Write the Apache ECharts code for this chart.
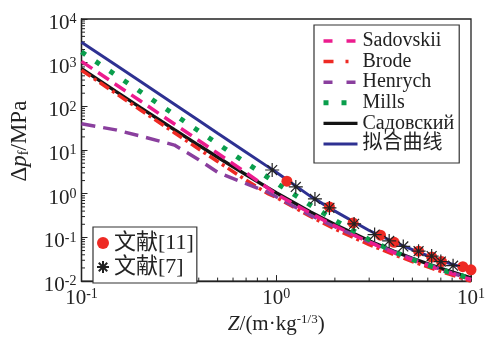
<!DOCTYPE html>
<html><head><meta charset="utf-8">
<script src="https://cdn.jsdelivr.net/npm/echarts@6/dist/echarts.min.js"></script>
<style>html,body{margin:0;padding:0;background:#fff}#c{width:488px;height:340px}</style>
</head><body><div id="c"></div>
<script>
const zVals = [0.1,0.15,0.2,0.3,0.4,0.5,0.7,0.9,1,1.5,2,3,4,5,7,10];
const sadovskii = [1070,317,134,39.5,16.6,8.46,3.02,1.37,0.98,0.357,0.183,0.0777,0.0451,0.0306,0.0180,0.0108];
const brode = [670,198.6,83.9,24.9,10.57,5.46,2.05,1.02,0.826,0.301,0.156,0.0685,0.0407,0.0281,0.0167,0.0099];
const henrych = [40.0,29,21,13,6.0,3.1,1.7,1.1,0.85,0.32,0.1755,0.0792,0.047,0.0321,0.0187,0.011];
const mills = [1762,520.7,219.2,64.7,27.25,13.94,5.09,2.41,1.766,0.547,0.247,0.089,0.0476,0.0312,0.0183,0.0114];
const sadovskyRu = [728,220,94.7,29.2,12.84,6.85,2.71,1.387,1.054,0.383,0.197,0.0839,0.0488,0.0332,0.0196,0.0118];
const fitted = [2950,880,374,112,47.4,24.3,8.94,4.23,3.1,0.87,0.40,0.144,0.0793,0.0524,0.029,0.0182];
const ref11 = [[1.134,1.94],[1.875,0.499],[2.48,0.214],[3.43,0.1127],[4.03,0.0774],[5.38,0.0483],[6.28,0.0356],[7.06,0.028],[9.08,0.0214],[10,0.0181]];
const ref7 = [[0.953,3.49],[1.26,1.43],[1.58,0.762],[1.875,0.474],[2.51,0.204],[3.2,0.116],[3.8,0.083],[4.49,0.0622],[5.38,0.0483],[6.28,0.0374],[7.0,0.028],[8.09,0.0225]];
const lineNames = ['Sadovskii','Brode','Henrych','Mills','Садовский','拟合曲线'];
const pointNames = ['文献[11]','文献[7]'];
const xMin = 0.1, xMax = 10, yMin = 0.01, yMax = 10000;

const FONT = "'Liberation Serif','Noto Sans CJK SC',serif";
const pair = arr => zVals.map((z,i)=>[z,arr[i]]);

// minor tick positions for log axes
const xMinor = [], yMinor = [];
for (let e=-1;e<1;e++) for (let k=2;k<10;k++) xMinor.push(k*Math.pow(10,e));
for (let e=-2;e<4;e++) for (let k=2;k<10;k++) yMinor.push(k*Math.pow(10,e));

const expLabel = v => {
  const e = Math.round(Math.log10(v));
  return '{b|10}{s|' + (e<0?'-':'') + Math.abs(e) + '}';
};
const labelRich = {
  b:{fontFamily:FONT,fontSize:21,color:'#222',lineHeight:22},
  s:{fontFamily:FONT,fontSize:14,color:'#222',verticalAlign:'top',lineHeight:14}
};

const chart = echarts.init(document.getElementById('c'));
const styles = {
  'Sadovskii':{color:'#ec1c8e',width:3.5,type:[13,7]},
  'Brode':{color:'#ee2a24',width:3.5,type:[11,4,3,4]},
  'Henrych':{color:'#8a3f9e',width:3.5,type:[14,8]},
  'Mills':{color:'#0a9e4c',width:5,type:[5,12]},
  'Садовский':{color:'#141414',width:3.4,type:'solid'},
  '拟合曲线':{color:'#2e3192',width:3,type:'solid'}
};
const lineBase = (name, data, z) => ({
  name, type:'line', data: pair(data), symbol:'none', z,
  lineStyle:Object.assign({cap:'butt'}, styles[name]), itemStyle:{color:styles[name].color}
});
const legendStyles = {
  'Sadovskii':{width:3.5,type:[9,14]},
  'Brode':{width:3.5,type:[10,12,3,10]},
  'Henrych':{width:3.5,type:[9,14]},
  'Mills':{width:5,type:[5,13]},
  'Садовский':{width:3.2,type:'solid'},
  '拟合曲线':{width:3,type:'solid'}
};
const starPath = 'path://M0,-10L0,10M-10,0L10,0M-7.07,-7.07L7.07,7.07M-7.07,7.07L7.07,-7.07';

chart.setOption({
  animation:false,
  backgroundColor:'#fff',
  grid:{left:78,right:13,top:19,bottom:49,show:true,borderColor:'#222',borderWidth:1.3,backgroundColor:'transparent'},
  xAxis:{type:'log',logBase:10,min:xMin,max:xMax,splitNumber:2,
    axisLine:{lineStyle:{color:'#222',width:1.3}},
    axisTick:{inside:true,length:6,lineStyle:{color:'#222',width:1}},
    splitLine:{show:false},
    axisLabel:{formatter:expLabel,rich:labelRich,margin:6},
    name:'{i|Z}{n|/(m·kg}{s|-1/3}{n|)}',nameLocation:'middle',nameGap:30,
    nameTextStyle:{rich:{
      i:{fontFamily:FONT,fontSize:21,fontStyle:'italic',color:'#222',lineHeight:22},
      n:{fontFamily:FONT,fontSize:21,color:'#222',lineHeight:22},
      s:{fontFamily:FONT,fontSize:13,color:'#222',verticalAlign:'top',lineHeight:13}}}
  },
  yAxis:{type:'log',logBase:10,min:yMin,max:yMax,splitNumber:6,
    axisLine:{lineStyle:{color:'#222',width:1.3}},
    axisTick:{inside:true,length:6,lineStyle:{color:'#222',width:1}},
    splitLine:{show:false},
    axisLabel:{formatter:expLabel,rich:labelRich,margin:5,padding:[9,0,0,0]},
    name:'{d|Δ}{p|p}{f|f}{n|/MPa}',nameLocation:'middle',nameRotate:90,nameGap:50,
    nameTextStyle:{padding:[0,0,0,18],rich:{
      d:{fontFamily:FONT,fontSize:23,color:'#222',lineHeight:24},
      p:{fontFamily:FONT,fontSize:23,fontStyle:'italic',color:'#222',lineHeight:24},
      f:{fontFamily:FONT,fontSize:14,color:'#222',verticalAlign:'bottom',lineHeight:14},
      n:{fontFamily:FONT,fontSize:23,color:'#222',lineHeight:24}}}
  },
  legend:[{
    data:lineNames.map(n=>({name:n,lineStyle:legendStyles[n]})), orient:'vertical', left:314, top:25,
    itemWidth:34, itemHeight:14, itemGap:0.6,
    itemStyle:{color:'rgba(0,0,0,0)',opacity:0,borderWidth:0},
    padding:[6,5,9,7], borderColor:'#333', borderWidth:1.2, backgroundColor:'#fff',
    textStyle:{fontFamily:FONT,fontSize:20,color:'#222',lineHeight:18}
  },{
    data:pointNames, orient:'vertical', left:93, top:227,
    itemWidth:12, itemHeight:12, itemGap:2,
    padding:[5,3,5,3], borderColor:'#333', borderWidth:1.2, backgroundColor:'#fff',
    textStyle:{fontFamily:FONT,fontSize:22,color:'#222',lineHeight:18}
  }],
  series:[
    {type:'custom',coordinateSystem:'cartesian2d',silent:true,z:1,
      data:xMinor.map(v=>[v,yMin]),
      renderItem:(p,api)=>{const c=api.coord([api.value(0),yMin]);
        return {type:'line',shape:{x1:c[0],y1:c[1],x2:c[0],y2:c[1]-3.5},style:{stroke:'#222',lineWidth:1}};}},
    {type:'custom',coordinateSystem:'cartesian2d',silent:true,z:1,
      data:yMinor.map(v=>[xMin,v]),
      renderItem:(p,api)=>{const c=api.coord([xMin,api.value(1)]);
        return {type:'line',shape:{x1:c[0],y1:c[1],x2:c[0]+3.5,y2:c[1]},style:{stroke:'#222',lineWidth:1}};}},
    lineBase('Садовский', sadovskyRu, 3),
    lineBase('Brode', brode, 4),
    lineBase('Henrych', henrych, 4),
    lineBase('Sadovskii', sadovskii, 5),
    lineBase('Mills', mills, 6),
    lineBase('拟合曲线', fitted, 7),
    {name:'文献[11]',type:'scatter',data:ref11,symbol:'circle',symbolSize:11,z:8,clip:false,
      itemStyle:{color:'#ee2a24',opacity:1}},
    {name:'文献[7]',type:'scatter',data:ref7,symbol:starPath,symbolSize:14,z:9,clip:false,
      itemStyle:{color:'rgba(0,0,0,0)',borderColor:'#222',borderWidth:1.2,opacity:1}}
  ]
});
</script></body></html>
